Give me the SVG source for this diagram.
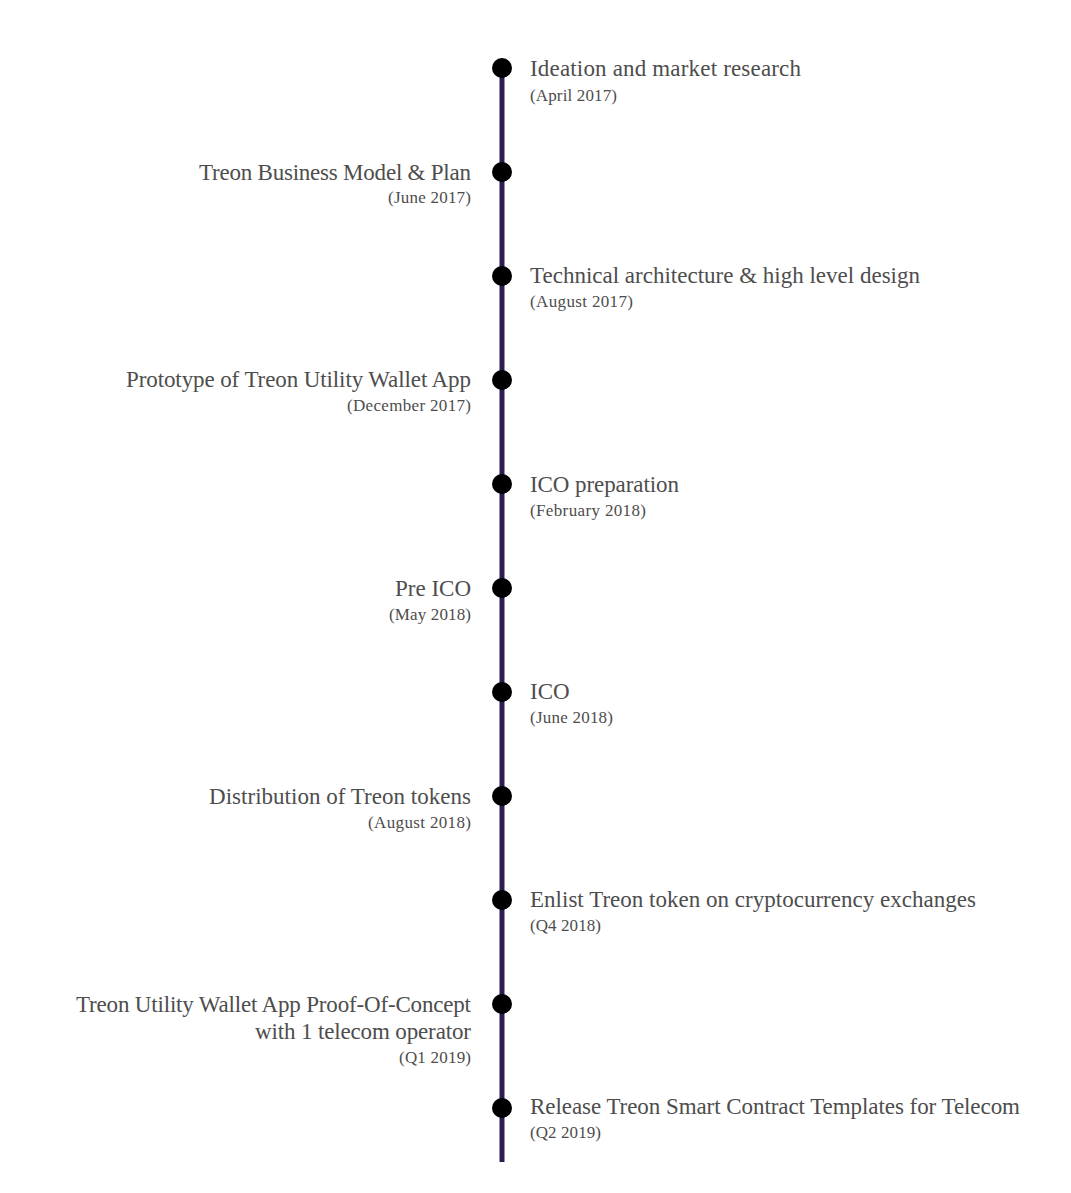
<svg xmlns="http://www.w3.org/2000/svg" width="1071" height="1193" viewBox="0 0 1071 1193">
<style>
.t{font-family:"Liberation Serif","DejaVu Serif",serif;font-size:23px;fill:#4d4d4d}
.d{font-family:"Liberation Serif","DejaVu Serif",serif;font-size:17px;fill:#4d4d4d}
.l{text-anchor:end}
.dot{fill:#000}
</style>
<rect width="1071" height="1193" fill="#fff"/>
<g id="connectors">
<line x1="502" y1="68" x2="502" y2="1162" stroke="#2e1c52" stroke-width="5"/>
</g>
<g id="n1"><circle class="dot" cx="502" cy="68" r="10"/><text class="t" x="530" y="76" textLength="271">Ideation and market research</text><text class="d" x="530" y="101" textLength="87">(April 2017)</text></g>
<g id="n2"><circle class="dot" cx="502" cy="172" r="10"/><text class="t l" x="471" y="180" textLength="272">Treon Business Model &amp; Plan</text><text class="d l" x="471" y="203" textLength="83">(June 2017)</text></g>
<g id="n3"><circle class="dot" cx="502" cy="276" r="10"/><text class="t" x="530" y="283" textLength="390">Technical architecture &amp; high level design</text><text class="d" x="530" y="307" textLength="103">(August 2017)</text></g>
<g id="n4"><circle class="dot" cx="502" cy="380" r="10"/><text class="t l" x="471" y="387" textLength="345">Prototype of Treon Utility Wallet App</text><text class="d l" x="471" y="411" textLength="124">(December 2017)</text></g>
<g id="n5"><circle class="dot" cx="502" cy="484" r="10"/><text class="t" x="530" y="492" textLength="149">ICO preparation</text><text class="d" x="530" y="516" textLength="116">(February 2018)</text></g>
<g id="n6"><circle class="dot" cx="502" cy="588" r="10"/><text class="t l" x="471" y="596">Pre ICO</text><text class="d l" x="471" y="620" textLength="82">(May 2018)</text></g>
<g id="n7"><circle class="dot" cx="502" cy="692" r="10"/><text class="t" x="530" y="699">ICO</text><text class="d" x="530" y="723" textLength="83">(June 2018)</text></g>
<g id="n8"><circle class="dot" cx="502" cy="796" r="10"/><text class="t l" x="471" y="804" textLength="262">Distribution of Treon tokens</text><text class="d l" x="471" y="828" textLength="103">(August 2018)</text></g>
<g id="n9"><circle class="dot" cx="502" cy="900" r="10"/><text class="t" x="530" y="907" textLength="446">Enlist Treon token on cryptocurrency exchanges</text><text class="d" x="530" y="931" textLength="71">(Q4 2018)</text></g>
<g id="n10"><circle class="dot" cx="502" cy="1004" r="10"/><text class="t l" x="471" y="1012" textLength="395">Treon Utility Wallet App Proof-Of-Concept</text><text class="t l" x="471" y="1039" textLength="216">with 1 telecom operator</text><text class="d l" x="471" y="1063" textLength="72">(Q1 2019)</text></g>
<g id="n11"><circle class="dot" cx="502" cy="1108" r="10"/><text class="t" x="530" y="1114" textLength="490">Release Treon Smart Contract Templates for Telecom</text><text class="d" x="530" y="1138" textLength="71">(Q2 2019)</text></g>
</svg>
